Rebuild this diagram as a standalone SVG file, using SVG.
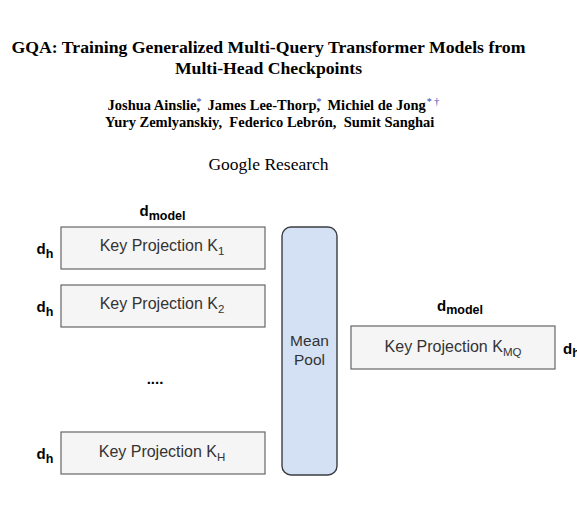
<svg xmlns="http://www.w3.org/2000/svg" width="577" height="532" viewBox="0 0 577 532">
<style>
.title{font-family:"Liberation Serif",serif;font-weight:bold;font-size:17.7px;fill:#000}
.auth{font-family:"Liberation Serif",serif;font-weight:bold;font-size:14.5px;fill:#000;white-space:pre}
.aff{font-family:"Liberation Serif",serif;font-size:17.5px;fill:#000}
.mark{fill:#1a3fbf;font-weight:normal;font-size:10px}
.box{fill:#f5f5f5;stroke:#666666;stroke-width:1.2}
.pool{fill:#d4e1f5;stroke:#3b3d41;stroke-width:1.4}
.lbl{font-family:"Liberation Sans",Arial,sans-serif;font-size:16px;fill:#333333;text-anchor:middle}
.sub{font-size:11.5px}
.dim{font-family:"Liberation Sans",Arial,sans-serif;font-weight:bold;font-size:15px;fill:#000}
.dsub{font-size:12.5px}
</style>
<rect width="577" height="532" fill="#ffffff"/>
<g id="header">
<text class="title" x="268.5" y="53" text-anchor="middle">GQA: Training Generalized Multi-Query Transformer Models from</text>
<text class="title" x="268.5" y="74" text-anchor="middle">Multi-Head Checkpoints</text>
<text class="auth" x="107.5" y="110">Joshua Ainslie<tspan class="mark" dy="-5">*</tspan><tspan dx="-5" dy="5">,&#160;&#160;James Lee-Thorp</tspan><tspan class="mark" dy="-5">*</tspan><tspan dx="-5" dy="5">,&#160;&#160;Michiel de Jong</tspan><tspan class="mark" dy="-5" dx="1">*&#160;†</tspan></text>
<text class="auth" x="105" y="127">Yury Zemlyanskiy,&#160;&#160;Federico Lebrón,&#160;&#160;Sumit Sanghai</text>
<text class="aff" x="268.5" y="170" text-anchor="middle">Google Research</text>
</g>
<g id="connectors"></g>
<g id="dim-left">
<text class="dim" x="139.5" y="216">d<tspan class="dsub" dy="3.5">model</tspan></text>
</g>
<g id="node-k1">
<rect class="box" x="61" y="227" width="204" height="42"/>
<text class="lbl" x="162" y="251">Key Projection K<tspan class="sub" dy="4">1</tspan></text>
<text class="dim" x="36.5" y="254">d<tspan class="dsub" dy="3.5">h</tspan></text>
</g>
<g id="node-k2">
<rect class="box" x="61" y="285" width="204" height="42"/>
<text class="lbl" x="162" y="309">Key Projection K<tspan class="sub" dy="4">2</tspan></text>
<text class="dim" x="36.5" y="312">d<tspan class="dsub" dy="3.5">h</tspan></text>
</g>
<g id="ellipsis">
<text class="dim" x="155" y="384" text-anchor="middle">....</text>
</g>
<g id="node-kh">
<rect class="box" x="61" y="432" width="204" height="42"/>
<text class="lbl" x="162" y="457">Key Projection K<tspan class="sub" dy="4">H</tspan></text>
<text class="dim" x="36.5" y="459">d<tspan class="dsub" dy="3.5">h</tspan></text>
</g>
<g id="node-meanpool">
<rect class="pool" x="282" y="227" width="55" height="248" rx="9" ry="9"/>
<text class="lbl" x="309.5" y="346" style="font-size:15.5px">Mean</text>
<text class="lbl" x="309.5" y="365" style="font-size:15.5px">Pool</text>
</g>
<g id="node-kmq">
<text class="dim" x="437" y="310.5">d<tspan class="dsub" dy="3.5">model</tspan></text>
<rect class="box" x="351" y="326" width="204" height="43"/>
<text class="lbl" x="453" y="352">Key Projection K<tspan class="sub" dy="4">MQ</tspan></text>
<text class="dim" x="563" y="353.5">d<tspan class="dsub" dy="3.5">h</tspan></text>
</g>
</svg>
